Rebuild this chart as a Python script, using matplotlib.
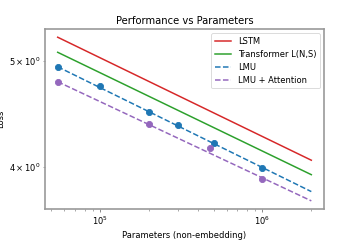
import matplotlib
matplotlib.use("Agg")
import matplotlib.pyplot as plt
import numpy as np

# Fitted power-law lines (endpoints)
line_params = [5.46e4, 2.0e6]
lstm_loss = [5.25, 4.058]
transformer_loss = [5.087, 3.937]
lmu_fit_loss = [4.935, 3.800]
lmu_att_fit_loss = [4.783, 3.727]

# Measured points
lmu_params = [5.46e4, 1.0e5, 2.0e5, 3.0e5, 5.0e5, 1.0e6]
lmu_loss = [4.935, 4.736, 4.491, 4.369, 4.211, 3.990]
lmu_att_params = [5.46e4, 2.0e5, 4.77e5, 1.0e6]
lmu_att_loss = [4.783, 4.381, 4.159, 3.899]

fig = plt.figure(figsize=(6, 4), dpi=60)
ax = fig.add_axes([0.125, 0.129, 0.775, 0.75])

red = "#d62728"
green = "#2ca02c"
blue = "#1f77b4"
purple = "#9467bd"

ax.plot(line_params, lstm_loss, color=red, lw=1.8, label="LSTM")
ax.plot(line_params, transformer_loss, color=green, lw=1.8, label="Transformer L(N,S)")
ax.plot(line_params, lmu_fit_loss, color=blue, lw=1.8, ls="--", label="LMU")
ax.plot(line_params, lmu_att_fit_loss, color=purple, lw=1.8, ls="--", label="LMU + Attention")
ax.scatter(lmu_params, lmu_loss, color=blue, s=55, zorder=3)
ax.scatter(lmu_att_params, lmu_att_loss, color=purple, s=55, zorder=3)

ax.set_xscale("log")
ax.set_yscale("log")
ax.set_title("Performance vs Parameters")
ax.set_xlabel("Parameters (non-embedding)")
ax.set_ylabel("Loss")

for sp in ax.spines.values():
    sp.set_color("#999999")
    sp.set_linewidth(2)
ax.tick_params(which="both", color="#555555")

ax.legend(loc="upper right")

fig.savefig("out.png", dpi=60)
